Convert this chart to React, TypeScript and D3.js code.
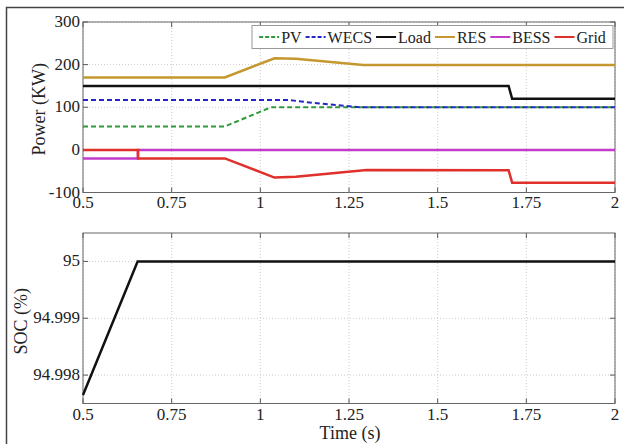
import React, { useRef, useEffect } from 'react';
import * as d3 from 'd3';

// Power traces (kW), time in seconds
const tPV = [0.5, 0.9, 1.03, 2];
const vPV = [55, 55, 100, 100];
const tWECS = [0.5, 1.08, 1.15, 1.28, 2];
const vWECS = [117, 117, 110, 100, 100];
const tLoad = [0.5, 1.7, 1.71, 2];
const vLoad = [150, 150, 120, 120];
const tRES = [0.5, 0.9, 1.04, 1.1, 1.29, 2];
const vRES = [170, 170, 215, 214, 199, 199];
const tBESS = [0.5, 0.655, 0.655, 2];
const vBESS = [-20, -20, 0, 0];
const tGrid = [0.5, 0.655, 0.655, 0.9, 1.04, 1.1, 1.3, 1.7, 1.71, 2];
const vGrid = [0, 0, -20, -20, -65, -63, -47, -48, -77, -77];

// State of charge (%)
const tSOC = [0.5, 0.654, 2];
const vSOC = [94.99765, 95, 95];

const xTicks = [0.5, 0.75, 1, 1.25, 1.5, 1.75, 2];
const powerTicks = [-100, 0, 100, 200, 300];
const socTicks = [94.998, 94.999, 95];

const seriesNames = ['PV', 'WECS', 'Load', 'RES', 'BESS', 'Grid'];
const seriesColors = ['#2f9a37', '#2626c4', '#111111', '#c4982e', '#c23ccc', '#e0302c'];
const seriesDashed = [true, true, false, false, false, false];

const App = () => {
  const svgRef = useRef(null);

  useEffect(() => {
    document.body.style.margin = '0';
    const width = 624;
    const height = 444;
    const font = '"Liberation Serif", "Times New Roman", serif';

    const svg = d3.select(svgRef.current);
    svg.selectAll('*').remove();
    svg.attr('width', width).attr('height', height);

    svg.append('rect').attr('width', width).attr('height', height).attr('fill', '#fff');
    // outer figure frame
    svg.append('rect')
      .attr('x', 6.5).attr('y', 7.5)
      .attr('width', 630).attr('height', 450)
      .attr('fill', 'none').attr('stroke', '#444').attr('stroke-width', 1.5);

    const left = 83;
    const right = 615;
    const x = d3.scaleLinear().domain([0.5, 2]).range([left, right]);

    const drawAxes = (y, top, bottom, yTicks, fmt, labelY) => {
      const g = svg.append('g');
      // grid
      xTicks.forEach(t => {
        g.append('line')
          .attr('x1', x(t)).attr('x2', x(t)).attr('y1', top).attr('y2', bottom)
          .attr('stroke', '#cccccc').attr('stroke-dasharray', '1,2');
      });
      yTicks.forEach(t => {
        g.append('line')
          .attr('x1', left).attr('x2', right).attr('y1', y(t)).attr('y2', y(t))
          .attr('stroke', '#cccccc').attr('stroke-dasharray', '1,2');
      });
      // ticks on all four sides, pointing in
      xTicks.forEach(t => {
        g.append('line').attr('x1', x(t)).attr('x2', x(t)).attr('y1', bottom).attr('y2', bottom - 5).attr('stroke', '#555');
        g.append('line').attr('x1', x(t)).attr('x2', x(t)).attr('y1', top).attr('y2', top + 5).attr('stroke', '#555');
        g.append('text')
          .attr('x', x(t)).attr('y', labelY)
          .attr('text-anchor', 'middle')
          .attr('font-family', font).attr('font-size', 17).attr('fill', '#222')
          .text(String(t));
      });
      yTicks.forEach(t => {
        g.append('line').attr('x1', left).attr('x2', left + 5).attr('y1', y(t)).attr('y2', y(t)).attr('stroke', '#555');
        g.append('line').attr('x1', right).attr('x2', right - 5).attr('y1', y(t)).attr('y2', y(t)).attr('stroke', '#555');
        g.append('text')
          .attr('x', left - 3).attr('y', y(t) + 5)
          .attr('text-anchor', 'end')
          .attr('font-family', font).attr('font-size', 17).attr('fill', '#222')
          .text(fmt(t));
      });
      g.append('rect')
        .attr('x', left).attr('y', top)
        .attr('width', right - left).attr('height', bottom - top)
        .attr('fill', 'none').attr('stroke', '#666').attr('stroke-width', 1);
    };

    // ---- top plot: power ----
    const top1 = 22;
    const bottom1 = 192.5;
    const y1 = d3.scaleLinear().domain([-100, 300]).range([bottom1, top1]);
    drawAxes(y1, top1, bottom1, powerTicks, d => String(d), 208);

    const times = [tPV, tWECS, tLoad, tRES, tBESS, tGrid];
    const values = [vPV, vWECS, vLoad, vRES, vBESS, vGrid];
    const line = d3.line().x(d => x(d[0])).y(d => y1(d[1]));

    seriesNames.forEach((name, i) => {
      const pts = times[i].map((t, j) => [t, values[i][j]]);
      svg.append('path')
        .datum(pts)
        .attr('d', line)
        .attr('fill', 'none')
        .attr('stroke', seriesColors[i])
        .attr('stroke-width', seriesDashed[i] ? 2 : 2.5)
        .attr('stroke-dasharray', seriesDashed[i] ? '5,3' : null);
    });

    svg.append('text')
      .attr('transform', `translate(45, ${(top1 + bottom1) / 2 + 2}) rotate(-90)`)
      .attr('text-anchor', 'middle')
      .attr('font-family', font).attr('font-size', 18).attr('fill', '#222')
      .text('Power (KW)');

    // legend
    const legend = svg.append('g');
    const box = legend.append('rect')
      .attr('y', 25.5).attr('height', 23)
      .attr('fill', '#fff').attr('stroke', '#999');
    let lx = 0;
    const items = legend.append('g');
    seriesNames.forEach((name, i) => {
      items.append('line')
        .attr('x1', lx).attr('x2', lx + 20).attr('y1', 37).attr('y2', 37)
        .attr('stroke', seriesColors[i]).attr('stroke-width', 2)
        .attr('stroke-dasharray', seriesDashed[i] ? '4,2' : null);
      const txt = items.append('text')
        .attr('x', lx + 22).attr('y', 43)
        .attr('font-family', font).attr('font-size', 16).attr('fill', '#222')
        .text(name);
      const w = txt.node().getComputedTextLength();
      lx += 22 + w + 4;
    });
    const contentW = lx - 4;
    const boxRight = 613;
    const boxLeft = 252;
    const pad = (boxRight - boxLeft - contentW) / 2;
    items.attr('transform', `translate(${boxLeft + pad}, 0)`);
    box.attr('x', boxLeft).attr('width', boxRight - boxLeft);

    // ---- bottom plot: SOC ----
    const top2 = 233;
    const bottom2 = 403.5;
    const y2 = d3.scaleLinear().domain([94.9975, 95.0005]).range([bottom2, top2]);
    drawAxes(y2, top2, bottom2, socTicks, d => d3.format('.3f')(d).replace(/\.000$/, ''), 420);

    svg.append('path')
      .datum(tSOC.map((t, j) => [t, vSOC[j]]))
      .attr('d', d3.line().x(d => x(d[0])).y(d => y2(d[1])))
      .attr('fill', 'none')
      .attr('stroke', '#111')
      .attr('stroke-width', 2.5);

    svg.append('text')
      .attr('transform', `translate(27, ${(top2 + bottom2) / 2 + 3}) rotate(-90)`)
      .attr('text-anchor', 'middle')
      .attr('font-family', font).attr('font-size', 18).attr('fill', '#222')
      .text('SOC (%)');

    svg.append('text')
      .attr('x', 350).attr('y', 439)
      .attr('text-anchor', 'middle')
      .attr('font-family', font).attr('font-size', 18).attr('fill', '#222')
      .text('Time (s)');
  }, []);

  return <svg ref={svgRef} style={{ display: 'block' }}></svg>;
};

export default App;
